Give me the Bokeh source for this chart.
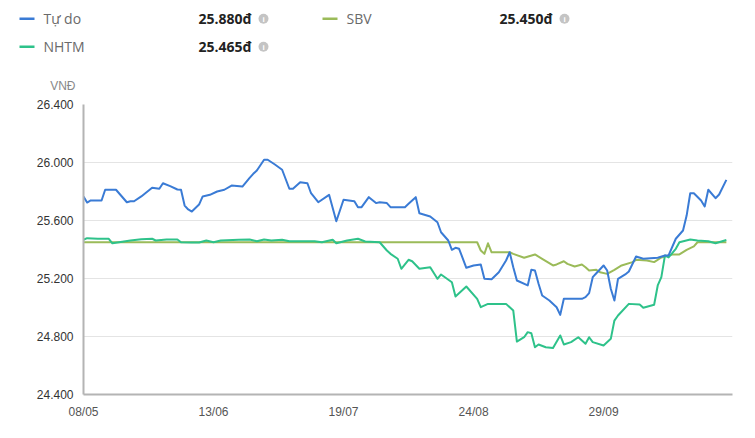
import pandas as pd
from bokeh.plotting import figure
from bokeh.layouts import column
from bokeh.models import Range1d, FixedTicker, DatetimeTickFormatter
from bokeh.core.properties import value
from bokeh.embed import file_html
from bokeh.resources import INLINE

# ---------------- data (day offsets from 08/05/2024) ----------------
START = "2024-05-08"
tudo_days = [0, 1, 2, 5, 6, 9, 12, 13, 14, 16, 19, 21, 22, 24, 26, 27, 28, 29, 30, 32, 33, 35, 37, 39, 41, 44, 46, 47, 48, 50, 51, 53, 55, 57, 58, 60, 62, 63, 65, 68, 70, 72, 75, 76, 77, 79, 81, 82, 84, 85, 89, 90, 92, 93, 96, 98, 99, 101, 102, 103, 104, 106, 108, 110, 111, 113, 115, 117, 118, 119, 120, 123, 124, 125, 126, 127, 129, 131, 132, 133, 135, 138, 139, 140, 141, 142, 144, 145, 146, 147, 148, 150, 151, 153, 155, 159, 161, 162, 164, 166, 167, 168, 169, 171, 172, 173, 175, 176, 178]
tudo_vals = [25765, 25724, 25738, 25738, 25812, 25812, 25726, 25733, 25733, 25766, 25826, 25819, 25857, 25837, 25814, 25812, 25703, 25676, 25662, 25710, 25766, 25777, 25800, 25812, 25841, 25834, 25894, 25922, 25945, 26019, 26019, 25986, 25950, 25819, 25819, 25864, 25857, 25788, 25726, 25777, 25595, 25743, 25733, 25692, 25692, 25761, 25720, 25726, 25720, 25692, 25692, 25715, 25761, 25650, 25628, 25588, 25519, 25462, 25398, 25412, 25405, 25274, 25290, 25297, 25198, 25195, 25243, 25324, 25381, 25278, 25186, 25152, 25260, 25255, 25164, 25083, 25048, 25002, 24949, 25060, 25060, 25060, 25071, 25099, 25209, 25236, 25290, 25255, 25129, 25048, 25198, 25228, 25248, 25352, 25336, 25343, 25359, 25359, 25474, 25531, 25634, 25788, 25788, 25738, 25697, 25812, 25754, 25779, 25880]

nhtm_days = [0, 1, 4, 7, 8, 13, 16, 19, 20, 23, 26, 27, 30, 32, 34, 36, 38, 43, 46, 48, 50, 52, 55, 57, 64, 66, 69, 70, 73, 76, 78, 82, 84, 85, 87, 88, 90, 91, 93, 96, 98, 99, 102, 103, 106, 109, 110, 112, 117, 119, 120, 122, 123, 124, 125, 126, 128, 130, 132, 133, 135, 137, 139, 140, 141, 144, 146, 147, 148, 151, 154, 155, 158, 159, 160, 161, 162, 164, 165, 168, 170, 173, 175, 178]
nhtm_vals = [25467, 25478, 25474, 25474, 25443, 25462, 25471, 25474, 25462, 25469, 25469, 25450, 25448, 25448, 25462, 25450, 25462, 25467, 25469, 25457, 25469, 25462, 25467, 25457, 25457, 25450, 25467, 25443, 25462, 25474, 25455, 25450, 25393, 25370, 25336, 25267, 25329, 25319, 25267, 25278, 25198, 25228, 25174, 25076, 25145, 25060, 25002, 25025, 25025, 24979, 24765, 24795, 24830, 24823, 24726, 24745, 24726, 24720, 24807, 24745, 24761, 24795, 24750, 24795, 24761, 24738, 24784, 24910, 24945, 25025, 25021, 24998, 25019, 25152, 25209, 25359, 25345, 25405, 25450, 25469, 25462, 25457, 25443, 25465]

sbv_days = [0, 109, 110, 111, 112, 113, 118, 119, 122, 125, 127, 130, 131, 133, 134, 136, 138, 139, 140, 142, 143, 145, 147, 149, 152, 153, 156, 158, 160, 163, 165, 167, 169, 170, 178]
sbv_vals = [25450, 25450, 25393, 25370, 25443, 25381, 25381, 25370, 25343, 25366, 25336, 25290, 25297, 25319, 25301, 25283, 25297, 25278, 25255, 25260, 25243, 25232, 25260, 25290, 25313, 25329, 25324, 25313, 25345, 25366, 25366, 25398, 25421, 25450, 25450]

series_names = ["Tự do", "SBV", "NHTM"]
series_latest = ["25.880đ", "25.450đ", "25.465đ"]
series_colors = ["#3a7bd5", "#9bbb59", "#2ec28a"]

y_ticks = [24400, 24800, 25200, 25600, 26000, 26400]
y_tick_labels = ["24.400", "24.800", "25.200", "25.600", "26.000", "26.400"]
x_tick_labels = ["08/05", "13/06", "19/07", "24/08", "29/09"]
YEAR = 2024
Y_UNIT = "VNĐ"

# ---------------- helpers ----------------
start = pd.Timestamp(START)
def to_dates(days):
    return [start + pd.Timedelta(days=d) for d in days]

x_ticks = [pd.Timestamp(f"{YEAR}-{s[3:5]}-{s[0:2]}") for s in x_tick_labels]
x_tick_ms = [t.value / 1e6 for t in x_ticks]

W = 755
HEAD_H = 94
MAIN_H = 438 - HEAD_H

def no_align(fig):
    try:
        fig.frame_align = False
    except Exception:
        pass

# ---------------- header figure (pixel coordinates) ----------------
h = figure(width=W, height=HEAD_H, x_range=Range1d(0, W), y_range=Range1d(HEAD_H, 0),
           output_backend="svg", toolbar_location=None, min_border=0,
           min_border_left=0, min_border_right=0, min_border_top=0, min_border_bottom=0)
h.axis.visible = False
h.grid.visible = False
h.outline_line_color = None
h.background_fill_color = "white"
h.border_fill_color = "white"
no_align(h)

rows = [(19, 18.3, 0), (322, 18.3, 1), (19, 46.3, 2)]
val_x = [198, 499, 198]
for k, (x0, y0, i) in enumerate(rows):
    col = series_colors[i]
    h.line([x0, x0 + 15], [y0, y0], line_color=col, line_width=2.5)
    h.text([x0 + 24], [y0], text=[series_names[i]], text_baseline="middle", text_align="left",
           text_font=value("Open Sans"), text_font_size="14px", text_color="#6a6a6a")
    vx = val_x[k]
    h.text([vx], [y0], text=[series_latest[i]], text_baseline="middle", text_align="left",
           text_font=value("Open Sans"), text_font_size="14px", text_font_style="bold",
           text_color="#222222")
    ix = vx + 65
    h.scatter([ix], [y0], size=10, marker="circle", fill_color="#c4c4c4", line_color=None)
    h.text([ix], [y0 + 0.5], text=["i"], text_baseline="middle", text_align="center",
           text_font=value("Liberation Sans"), text_font_size="8px", text_font_style="bold",
           text_color="white")

h.text([75], [85], text=[Y_UNIT], text_baseline="middle", text_align="right",
       text_font=value("Liberation Sans"), text_font_size="12px", text_color="#888888")

# ---------------- main figure ----------------
p = figure(width=W, height=MAIN_H, x_axis_type="datetime",
           x_range=Range1d(start, start + pd.Timedelta(days=179.7)),
           y_range=Range1d(y_ticks[0], y_ticks[-1]),
           output_backend="svg", toolbar_location=None,
           min_border_left=83, min_border_right=23, min_border_top=10, min_border_bottom=44)
p.outline_line_color = None
p.background_fill_color = "white"
p.border_fill_color = "white"
no_align(p)

p.line(to_dates(sbv_days), sbv_vals, line_color=series_colors[1], line_width=2, line_join="round")
p.line(to_dates(nhtm_days), nhtm_vals, line_color=series_colors[2], line_width=2, line_join="round")
p.line(to_dates(tudo_days), tudo_vals, line_color=series_colors[0], line_width=2, line_join="round")

p.yaxis.ticker = FixedTicker(ticks=y_ticks)
p.yaxis.major_label_overrides = {t: l for t, l in zip(y_ticks, y_tick_labels)}
p.xaxis.ticker = FixedTicker(ticks=x_tick_ms)
p.xaxis.formatter = DatetimeTickFormatter(days="%d/%m", months="%d/%m", years="%d/%m",
                                          hours="%d/%m", minutes="%d/%m", seconds="%d/%m")

for ax in (p.xaxis[0], p.yaxis[0]):
    ax.axis_line_color = "#b4b4b4"
    ax.axis_line_width = 2
    ax.major_tick_line_color = None
    ax.minor_tick_line_color = None
    ax.major_tick_out = 0
    ax.minor_tick_out = 0
    ax.major_label_text_font = "Liberation Sans"
    ax.major_label_text_font_size = "12px"
p.yaxis.major_label_standoff = 10
p.yaxis.major_label_text_color = "#333333"
p.xaxis.major_label_standoff = 10
p.xaxis.major_label_text_color = "#555555"

p.xgrid.visible = False
p.ygrid.ticker = FixedTicker(ticks=y_ticks)
p.ygrid.grid_line_color = "#e4e4e4"
p.ygrid.grid_line_width = 1

layout = column(h, p, spacing=0)
open("out.html", "w").write(file_html(layout, INLINE))
